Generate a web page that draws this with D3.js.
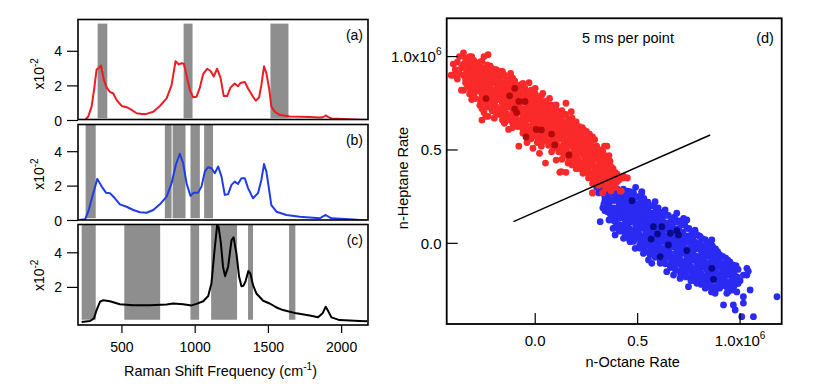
<!DOCTYPE html>
<html>
<head>
<meta charset="utf-8">
<script src="https://cdn.jsdelivr.net/npm/d3@7"></script>
<style>
  body { margin: 0; background: #fff; }
  svg { display: block; }
  text { font-family: "Liberation Sans", Arial, sans-serif; fill: #000; }
</style>
</head>
<body>
<svg id="chart" width="820" height="388"></svg>
<script>
// ---- spectra (Raman shift in cm-1, intensity x10^-2) ----
const freqTicks = [500, 1000, 1500, 2000];

const specA = [[225,0.0],[250,0.05],[270,0.23],[293,0.8],[310,1.8],[327,2.94],[343,3.05],[357,3.18],[377,2.33],[396,1.9],
  [418,1.66],[441,1.56],[464,1.18],[498,0.84],[532,0.77],[566,0.61],[600,0.42],[635,0.37],[668,0.38],[714,0.51],
  [759,0.84],[805,1.28],[839,2.04],[866,3.43],[889,3.24],[907,3.31],[923,3.28],[941,2.61],[964,1.75],[986,1.34],
  [1009,1.37],[1032,1.9],[1055,2.7],[1082,2.99],[1105,2.86],[1127,2.55],[1150,2.99],[1173,2.48],[1195,1.41],[1218,1.41],
  [1241,1.9],[1270,2.14],[1293,1.98],[1309,2.17],[1339,2.23],[1361,1.85],[1395,1.37],[1414,1.14],[1436,1.34],[1452,2.04],
  [1470,3.13],[1486,2.74],[1505,1.85],[1520,0.8],[1543,0.51],[1577,0.33],[1645,0.23],[1714,0.21],[1782,0.2],[1850,0.17],
  [1875,0.2],[1891,0.29],[1910,0.2],[1930,0.12],[2009,0.08],[2123,0.04],[2175,0.03]];

const specB = [[209,0.03],[248,0.07],[270,0.51],[304,1.59],[332,2.42],[362,1.97],[391,1.62],[418,1.59],[452,1.29],[486,0.94],
  [532,0.8],[577,0.61],[623,0.48],[668,0.45],[714,0.61],[759,0.94],[805,1.39],[839,2.17],[868,3.24],[895,3.88],
  [918,3.33],[941,2.17],[968,1.43],[991,1.62],[1020,1.62],[1043,1.97],[1066,2.85],[1089,3.1],[1111,3.04],[1134,2.75],
  [1157,3.14],[1180,2.55],[1202,1.49],[1225,1.53],[1248,2.07],[1270,2.26],[1293,2.13],[1316,2.46],[1339,2.46],[1361,1.88],
  [1395,1.29],[1429,1.59],[1452,2.36],[1470,3.28],[1486,2.85],[1505,1.78],[1520,0.9],[1555,0.51],[1623,0.32],[1714,0.22],
  [1782,0.18],[1850,0.13],[1891,0.32],[1930,0.13],[2055,0.07],[2123,0.03],[2175,0.02]];

const specC = [[225,0.0],[282,0.06],[309,0.21],[327,0.69],[350,1.17],[373,1.26],[418,1.2],[486,1.03],[577,0.97],[691,0.97],
  [805,1.01],[850,1.07],[918,1.03],[975,0.96],[1009,1.05],[1055,1.2],[1089,1.5],[1111,2.22],[1130,3.95],[1150,5.6],
  [1160,5.5],[1175,4.6],[1190,3.2],[1204,2.65],[1225,3.19],[1248,4.72],[1262,4.9],[1282,3.95],[1300,2.61],[1316,2.07],
  [1330,2.1],[1345,2.38],[1363,2.95],[1377,2.8],[1395,2.13],[1418,1.65],[1464,1.23],[1509,1.07],[1555,0.84],[1600,0.69],
  [1691,0.5],[1782,0.38],[1839,0.27],[1870,0.5],[1891,0.88],[1910,0.6],[1930,0.27],[1986,0.11],[2123,0.06],[2175,0.05]];

// shaded frequency windows [from, to]
const barsA = [[334,400],[921,982],[1514,1637]];
const barsB = [[252,321],[793,839],[846,934],[968,1032],[1061,1122]];
const barsC = [[225,321],[516,761],[968,1027],[1109,1286],[1361,1395],[1641,1684]];

// ---- scatter (rates in units of 10^6) ----
const rateTicks = [0, 0.5, 1.0];
const fitLine = [[-0.106,0.116],[0.854,0.58]];

const redPts = [
  [-0.41,0.90],[-0.40,0.96],[-0.39,0.93],[-0.40,0.90],
  [-0.37,1.00],[-0.38,0.97],[-0.37,0.91],[-0.38,0.88],[-0.36,0.94],
  [-0.35,1.02],[-0.35,0.96],[-0.34,0.99],[-0.35,0.90],[-0.34,0.86],[-0.33,0.93],[-0.35,0.82],
  [-0.32,0.97],[-0.33,0.95],[-0.32,0.90],[-0.31,0.87],[-0.33,0.84],[-0.32,0.80],[-0.31,0.94],[-0.32,1.00],
  [-0.30,0.98],[-0.30,0.93],[-0.29,0.90],[-0.30,0.86],[-0.29,0.83],[-0.30,0.79],[-0.29,0.95],[-0.28,0.88],
  [-0.27,0.97],[-0.28,0.92],[-0.27,0.89],[-0.28,0.85],[-0.27,0.82],[-0.26,0.78],[-0.27,0.74],[-0.26,0.94],[-0.26,0.86],
  [-0.25,1.00],[-0.25,0.93],[-0.24,0.90],[-0.25,0.86],[-0.24,0.82],[-0.25,0.78],[-0.24,0.75],[-0.23,0.88],[-0.25,0.70],
  [-0.22,0.95],[-0.23,0.91],[-0.22,0.87],[-0.23,0.84],[-0.22,0.80],[-0.21,0.77],[-0.22,0.73],[-0.21,0.90],[-0.23,0.68],
  [-0.20,0.93],[-0.20,0.89],[-0.19,0.86],[-0.20,0.82],[-0.19,0.79],[-0.20,0.75],[-0.19,0.71],[-0.18,0.83],[-0.20,0.67],
  [-0.17,0.92],[-0.18,0.88],[-0.17,0.84],[-0.18,0.80],[-0.17,0.77],[-0.16,0.73],[-0.17,0.70],[-0.16,0.86],[-0.16,0.66],
  [-0.15,0.90],[-0.15,0.86],[-0.14,0.82],[-0.15,0.79],[-0.14,0.75],[-0.15,0.71],[-0.14,0.68],[-0.13,0.85],[-0.13,0.78],
  [-0.12,0.88],[-0.13,0.84],[-0.12,0.80],[-0.13,0.76],[-0.12,0.73],[-0.11,0.69],[-0.12,0.66],[-0.11,0.77],[-0.12,0.91],[-0.11,0.62],
  [-0.10,0.87],[-0.10,0.83],[-0.09,0.79],[-0.10,0.76],[-0.09,0.72],[-0.10,0.68],[-0.09,0.65],[-0.08,0.75],[-0.08,0.84],
  [-0.07,0.85],[-0.08,0.81],[-0.07,0.78],[-0.08,0.74],[-0.07,0.71],[-0.06,0.67],[-0.07,0.63],[-0.06,0.76],[-0.06,0.59],
  [-0.05,0.83],[-0.05,0.80],[-0.04,0.76],[-0.05,0.72],[-0.04,0.69],[-0.05,0.65],[-0.04,0.61],[-0.03,0.74],[-0.03,0.86],
  [-0.02,0.82],[-0.03,0.78],[-0.02,0.74],[-0.03,0.71],[-0.02,0.67],[-0.01,0.63],[-0.02,0.60],[-0.01,0.71],[-0.02,0.56],
  [0.00,0.80],[0.00,0.76],[0.01,0.73],[0.00,0.69],[0.01,0.65],[0.00,0.62],[0.01,0.58],[0.02,0.68],[0.02,0.77],[0.01,0.54],
  [0.03,0.79],[0.02,0.75],[0.03,0.71],[0.02,0.67],[0.03,0.64],[0.04,0.60],[0.03,0.56],[0.04,0.69],[0.03,0.52],
  [0.05,0.76],[0.05,0.73],[0.06,0.69],[0.05,0.66],[0.06,0.62],[0.05,0.58],[0.06,0.55],[0.07,0.65],[0.07,0.72],
  [0.08,0.74],[0.07,0.70],[0.08,0.67],[0.07,0.63],[0.08,0.60],[0.09,0.56],[0.08,0.53],[0.09,0.64],[0.08,0.49],
  [0.10,0.72],[0.10,0.69],[0.11,0.65],[0.10,0.61],[0.11,0.58],[0.10,0.54],[0.11,0.51],[0.12,0.62],[0.12,0.68],
  [0.13,0.71],[0.12,0.67],[0.13,0.63],[0.12,0.59],[0.13,0.56],[0.14,0.52],[0.13,0.49],[0.14,0.60],[0.13,0.45],
  [0.15,0.69],[0.15,0.65],[0.16,0.61],[0.15,0.57],[0.16,0.54],[0.15,0.50],[0.16,0.47],[0.17,0.58],[0.16,0.43],
  [0.18,0.67],[0.17,0.63],[0.18,0.59],[0.17,0.56],[0.18,0.52],[0.19,0.49],[0.18,0.45],[0.19,0.56],[0.18,0.42],
  [0.20,0.65],[0.20,0.61],[0.21,0.57],[0.20,0.54],[0.21,0.50],[0.20,0.47],[0.21,0.43],[0.22,0.53],[0.22,0.40],
  [0.23,0.62],[0.22,0.59],[0.23,0.55],[0.22,0.51],[0.23,0.48],[0.24,0.44],[0.23,0.41],[0.24,0.52],[0.24,0.38],
  [0.25,0.60],[0.25,0.56],[0.26,0.52],[0.25,0.49],[0.26,0.45],[0.25,0.42],[0.26,0.38],[0.27,0.48],[0.26,0.35],
  [0.28,0.57],[0.27,0.53],[0.28,0.49],[0.27,0.46],[0.28,0.42],[0.29,0.39],[0.28,0.36],[0.29,0.45],[0.28,0.32],
  [0.30,0.52],[0.30,0.48],[0.31,0.45],[0.30,0.41],[0.31,0.38],[0.30,0.35],[0.31,0.31],[0.32,0.42],
  [0.33,0.49],[0.32,0.45],[0.33,0.41],[0.32,0.38],[0.33,0.34],[0.34,0.31],[0.33,0.27],
  [0.35,0.46],[0.35,0.42],[0.36,0.38],[0.35,0.35],[0.36,0.31],[0.37,0.28],
  [0.38,0.40],[0.37,0.36],[0.38,0.33],[0.39,0.30],
  [0.40,0.37],[0.41,0.34],[0.42,0.28],[0.43,0.35],
  // loose points round the edge
  [-0.23,1.01],[-0.16,0.92],[0.00,0.83],[0.05,0.75],[0.15,0.75],[0.18,0.65],[0.25,0.55],[0.35,0.52],[0.36,0.47],
  [0.35,0.43],[0.40,0.36],[-0.31,0.77],[-0.26,0.66],[-0.24,0.68],[-0.13,0.61],[-0.08,0.52],[-0.04,0.54],[0.05,0.43],
  [0.12,0.38],[0.15,0.38],[0.27,0.36],[0.28,0.27],[-0.36,0.82],[-0.30,0.81],[0.24,0.41],[0.28,0.35],[0.34,0.35],
  [0.37,0.41],[0.40,0.33],[0.43,0.36],[0.415,0.28],[0.28,0.27],[0.37,0.29],[0.45,0.35],
  [-0.27,0.955],[-0.19,0.93],[-0.11,0.884],[-0.06,0.857],[0.037,0.803],[0.07,0.776],[0.102,0.741],[0.176,0.705],
  [0.208,0.616],[0.289,0.50],[0.338,0.521],[0.306,0.455],[-0.19,0.696],[-0.15,0.643],[-0.011,0.509],[0.021,0.482],
  [0.102,0.446],[0.127,0.384],[0.20,0.40],[0.233,0.375]];

// points lying between the ones above, in the crowded core
const redFill = [
  [-0.34,0.97],[-0.335,0.92],[-0.34,0.88],
  [-0.31,1.00],[-0.315,0.96],[-0.31,0.92],[-0.315,0.885],[-0.31,0.85],[-0.315,0.82],
  [-0.285,0.96],[-0.29,0.925],[-0.285,0.885],[-0.29,0.85],[-0.285,0.815],[-0.29,0.775],
  [-0.26,0.975],[-0.265,0.915],[-0.26,0.875],[-0.265,0.84],[-0.26,0.80],[-0.265,0.76],[-0.26,0.72],
  [-0.235,0.955],[-0.24,0.925],[-0.235,0.88],[-0.24,0.845],[-0.235,0.805],[-0.24,0.765],[-0.235,0.73],
  [-0.21,0.935],[-0.215,0.895],[-0.21,0.86],[-0.215,0.825],[-0.21,0.785],[-0.215,0.75],[-0.21,0.71],
  [-0.185,0.91],[-0.19,0.875],[-0.185,0.84],[-0.19,0.805],[-0.185,0.77],[-0.19,0.73],[-0.185,0.69],
  [-0.16,0.895],[-0.165,0.86],[-0.16,0.82],[-0.165,0.785],[-0.16,0.75],[-0.165,0.71],[-0.16,0.68],
  [-0.135,0.875],[-0.14,0.84],[-0.135,0.80],[-0.14,0.77],[-0.135,0.73],[-0.14,0.695],[-0.135,0.66],
  [-0.11,0.86],[-0.115,0.82],[-0.11,0.785],[-0.115,0.75],[-0.11,0.715],[-0.115,0.68],[-0.11,0.645],
  [-0.085,0.845],[-0.09,0.81],[-0.085,0.77],[-0.09,0.735],[-0.085,0.70],[-0.09,0.665],[-0.085,0.625],
  [-0.06,0.83],[-0.065,0.79],[-0.06,0.755],[-0.065,0.72],[-0.06,0.68],[-0.065,0.645],[-0.06,0.61],
  [-0.035,0.81],[-0.04,0.775],[-0.035,0.74],[-0.04,0.70],[-0.035,0.665],[-0.04,0.63],[-0.035,0.59],
  [-0.01,0.79],[-0.015,0.755],[-0.01,0.72],[-0.015,0.685],[-0.01,0.65],[-0.015,0.61],[-0.01,0.575],
  [0.015,0.775],[0.01,0.74],[0.015,0.705],[0.01,0.67],[0.015,0.63],[0.01,0.595],[0.015,0.56],
  [0.04,0.755],[0.035,0.72],[0.04,0.685],[0.035,0.65],[0.04,0.615],[0.035,0.58],[0.04,0.545],
  [0.065,0.74],[0.06,0.705],[0.065,0.67],[0.06,0.635],[0.065,0.595],[0.06,0.56],[0.065,0.525],
  [0.09,0.72],[0.085,0.685],[0.09,0.65],[0.085,0.615],[0.09,0.58],[0.085,0.545],[0.09,0.51],
  [0.115,0.70],[0.11,0.665],[0.115,0.63],[0.11,0.595],[0.115,0.56],[0.11,0.525],[0.115,0.49],
  [0.14,0.685],[0.135,0.65],[0.14,0.61],[0.135,0.575],[0.14,0.54],[0.135,0.505],[0.14,0.47],
  [0.165,0.665],[0.16,0.63],[0.165,0.595],[0.16,0.56],[0.165,0.52],[0.16,0.485],[0.165,0.45],
  [0.19,0.645],[0.185,0.61],[0.19,0.575],[0.185,0.54],[0.19,0.505],[0.185,0.47],[0.19,0.435],
  [0.215,0.625],[0.21,0.59],[0.215,0.555],[0.21,0.52],[0.215,0.485],[0.21,0.45],[0.215,0.415],
  [0.24,0.605],[0.235,0.57],[0.24,0.535],[0.235,0.50],[0.24,0.465],[0.235,0.43],[0.24,0.395],
  [0.265,0.585],[0.26,0.55],[0.265,0.51],[0.26,0.475],[0.265,0.44],[0.26,0.405],[0.265,0.37],
  [0.29,0.555],[0.285,0.515],[0.29,0.48],[0.285,0.445],[0.29,0.41],[0.285,0.375],[0.29,0.34],
  [0.315,0.50],[0.31,0.465],[0.315,0.43],[0.31,0.395],[0.315,0.36],[0.31,0.33],
  [0.34,0.47],[0.335,0.435],[0.34,0.40],[0.335,0.365],[0.34,0.33],[0.345,0.295],
  [0.365,0.44],[0.36,0.405],[0.365,0.37],[0.36,0.335],[0.365,0.30],
  [0.39,0.38],[0.385,0.345],[0.39,0.315]];

const redDark = [[-0.10,0.83],[-0.125,0.79],[-0.24,0.775],[-0.05,0.76],[-0.08,0.76],[-0.10,0.72],[-0.09,0.70],
  [0.005,0.61],[0.03,0.607],[0.08,0.585],[-0.045,0.57],[0.095,0.527],[0.165,0.473]];

const bluePts = [
  [0.31,0.27],[0.30,0.30],[0.33,0.36],[0.32,0.31],[0.33,0.27],[0.34,0.23],[0.33,0.19],
  [0.35,0.33],[0.36,0.29],[0.35,0.25],[0.36,0.21],[0.35,0.17],[0.37,0.14],
  [0.38,0.31],[0.37,0.27],[0.38,0.23],[0.37,0.19],[0.38,0.15],[0.39,0.12],[0.38,0.08],
  [0.40,0.29],[0.40,0.25],[0.41,0.21],[0.40,0.18],[0.41,0.14],[0.40,0.10],[0.41,0.07],[0.42,0.24],
  [0.43,0.29],[0.42,0.26],[0.43,0.22],[0.42,0.18],[0.43,0.15],[0.44,0.11],[0.43,0.08],[0.44,0.04],[0.44,0.20],
  [0.45,0.28],[0.45,0.24],[0.46,0.20],[0.45,0.17],[0.46,0.13],[0.45,0.09],[0.46,0.06],[0.47,0.16],[0.46,0.02],
  [0.48,0.27],[0.47,0.23],[0.48,0.19],[0.47,0.15],[0.48,0.12],[0.49,0.08],[0.48,0.04],[0.49,0.17],[0.48,0.01],
  [0.50,0.25],[0.50,0.21],[0.51,0.17],[0.50,0.14],[0.51,0.10],[0.50,0.06],[0.51,0.03],[0.52,0.13],[0.51,-0.01],
  [0.53,0.24],[0.52,0.20],[0.53,0.16],[0.52,0.12],[0.53,0.09],[0.54,0.05],[0.53,0.01],[0.54,0.11],[0.53,-0.03],[0.54,0.19],
  [0.55,0.22],[0.55,0.18],[0.56,0.14],[0.55,0.10],[0.56,0.07],[0.55,0.03],[0.56,0.00],[0.57,0.09],[0.56,-0.04],[0.57,0.16],
  [0.58,0.20],[0.57,0.16],[0.58,0.12],[0.57,0.08],[0.58,0.05],[0.59,0.01],[0.58,-0.02],[0.59,0.09],[0.58,-0.06],
  [0.60,0.19],[0.60,0.15],[0.61,0.11],[0.60,0.07],[0.61,0.03],[0.60,0.00],[0.61,-0.04],[0.62,0.06],[0.61,-0.08],[0.62,0.14],
  [0.63,0.17],[0.62,0.13],[0.63,0.09],[0.62,0.05],[0.63,0.01],[0.64,-0.02],[0.63,-0.06],[0.64,0.04],[0.63,-0.10],
  [0.65,0.15],[0.65,0.11],[0.66,0.07],[0.65,0.03],[0.66,-0.01],[0.65,-0.04],[0.66,-0.08],[0.67,0.02],[0.66,-0.12],[0.67,0.12],
  [0.68,0.14],[0.67,0.10],[0.68,0.06],[0.67,0.02],[0.68,-0.02],[0.69,-0.05],[0.68,-0.09],[0.69,0.03],[0.68,-0.13],
  [0.70,0.12],[0.70,0.08],[0.71,0.04],[0.70,0.00],[0.71,-0.03],[0.70,-0.07],[0.71,-0.11],[0.72,-0.01],[0.71,-0.15],[0.72,0.10],
  [0.73,0.10],[0.72,0.06],[0.73,0.02],[0.72,-0.02],[0.73,-0.05],[0.74,-0.09],[0.73,-0.13],[0.74,-0.03],[0.73,-0.16],
  [0.75,0.08],[0.75,0.04],[0.76,0.00],[0.75,-0.04],[0.76,-0.07],[0.75,-0.11],[0.76,-0.15],[0.77,-0.05],[0.76,-0.18],[0.77,0.05],
  [0.78,0.06],[0.77,0.02],[0.78,-0.02],[0.77,-0.06],[0.78,-0.09],[0.79,-0.13],[0.78,-0.17],[0.79,-0.07],[0.78,-0.20],
  [0.80,0.04],[0.80,0.00],[0.81,-0.04],[0.80,-0.08],[0.81,-0.11],[0.80,-0.15],[0.81,-0.19],[0.82,-0.09],[0.81,-0.22],
  [0.83,0.02],[0.82,-0.02],[0.83,-0.06],[0.82,-0.10],[0.83,-0.13],[0.84,-0.17],[0.83,-0.21],[0.84,-0.11],[0.83,-0.24],
  [0.85,0.00],[0.85,-0.04],[0.86,-0.08],[0.85,-0.12],[0.86,-0.15],[0.85,-0.19],[0.86,-0.23],[0.87,-0.13],[0.86,-0.26],
  [0.88,-0.03],[0.87,-0.07],[0.88,-0.11],[0.87,-0.14],[0.88,-0.18],[0.89,-0.21],[0.88,-0.25],[0.89,-0.09],
  [0.90,-0.06],[0.90,-0.10],[0.91,-0.13],[0.90,-0.17],[0.91,-0.20],[0.90,-0.24],[0.92,-0.15],
  [0.93,-0.08],[0.92,-0.12],[0.93,-0.16],[0.92,-0.19],[0.93,-0.23],[0.94,-0.26],
  [0.95,-0.10],[0.95,-0.14],[0.96,-0.18],[0.95,-0.21],[0.96,-0.25],
  [0.98,-0.12],[0.97,-0.16],[0.98,-0.20],[0.97,-0.23],
  // loose points round the edge
  [1.18,-0.286],[1.065,-0.393],[1.008,-0.393],[0.976,-0.357],[1.016,-0.286],[1.049,-0.25],[1.033,-0.134],[1.04,-0.15],
  [0.967,-0.33],[1.016,-0.32],[0.984,-0.26],[1.0,-0.20],[0.959,-0.143],[1.033,-0.17],[0.317,0.116],[0.39,0.045],
  [0.431,0.027],[0.528,-0.054],[0.569,-0.107],[0.642,-0.152],[0.707,-0.188],[0.748,-0.232],[0.837,-0.232],[0.878,-0.268],
  [0.935,-0.268],[0.919,-0.33],[0.52,0.277],[0.585,0.223],[0.691,0.161],[0.74,0.125],[0.805,0.036],[0.862,0.018],
  [0.886,-0.071],[0.959,-0.125],[0.33,0.357],[0.314,0.286],[0.38,0.30],[0.42,0.27],[0.49,0.30],[0.52,0.27],
  [0.374,0.16],[0.463,0.009],[0.488,-0.027],[0.553,-0.089],[0.61,-0.107],[0.675,-0.17],[0.789,-0.214],[0.463,0.277],
  [0.634,0.179],[0.724,0.134],[0.78,0.071],[0.87,-0.027],[0.935,-0.098],[1.016,-0.17]];

const blueFill = [
  [0.34,0.32],[0.335,0.285],[0.34,0.25],[0.335,0.21],[0.34,0.175],
  [0.365,0.31],[0.36,0.27],[0.365,0.235],[0.36,0.195],[0.365,0.16],[0.36,0.125],
  [0.39,0.30],[0.385,0.265],[0.39,0.23],[0.385,0.19],[0.39,0.155],[0.385,0.12],[0.39,0.085],
  [0.415,0.28],[0.41,0.245],[0.415,0.205],[0.41,0.17],[0.415,0.135],[0.41,0.10],[0.415,0.065],
  [0.44,0.27],[0.435,0.235],[0.44,0.195],[0.435,0.16],[0.44,0.125],[0.435,0.09],[0.44,0.055],
  [0.465,0.26],[0.46,0.22],[0.465,0.185],[0.46,0.15],[0.465,0.115],[0.46,0.08],[0.465,0.04],
  [0.49,0.245],[0.485,0.21],[0.49,0.17],[0.485,0.135],[0.49,0.10],[0.485,0.065],[0.49,0.025],
  [0.515,0.23],[0.51,0.19],[0.515,0.155],[0.51,0.12],[0.515,0.08],[0.51,0.045],[0.515,0.01],[0.51,-0.025],
  [0.54,0.215],[0.535,0.175],[0.54,0.14],[0.535,0.10],[0.54,0.065],[0.535,0.03],[0.54,-0.01],[0.535,-0.045],
  [0.565,0.20],[0.56,0.16],[0.565,0.125],[0.56,0.085],[0.565,0.05],[0.56,0.015],[0.565,-0.025],[0.56,-0.06],
  [0.59,0.18],[0.585,0.145],[0.59,0.105],[0.585,0.07],[0.59,0.035],[0.585,-0.005],[0.59,-0.04],[0.585,-0.075],
  [0.615,0.165],[0.61,0.13],[0.615,0.09],[0.61,0.055],[0.615,0.015],[0.61,-0.02],[0.615,-0.06],[0.61,-0.095],
  [0.64,0.15],[0.635,0.11],[0.64,0.075],[0.635,0.035],[0.64,0.0],[0.635,-0.04],[0.64,-0.075],[0.635,-0.11],
  [0.665,0.13],[0.66,0.095],[0.665,0.055],[0.66,0.02],[0.665,-0.02],[0.66,-0.055],[0.665,-0.095],[0.66,-0.13],
  [0.69,0.115],[0.685,0.075],[0.69,0.04],[0.685,0.0],[0.69,-0.035],[0.685,-0.075],[0.69,-0.11],[0.685,-0.145],
  [0.715,0.10],[0.71,0.06],[0.715,0.02],[0.71,-0.015],[0.715,-0.055],[0.71,-0.09],[0.715,-0.13],[0.71,-0.165],
  [0.74,0.08],[0.735,0.04],[0.74,0.005],[0.735,-0.035],[0.74,-0.07],[0.735,-0.11],[0.74,-0.145],[0.735,-0.18],
  [0.765,0.06],[0.76,0.025],[0.765,-0.015],[0.76,-0.05],[0.765,-0.09],[0.76,-0.125],[0.765,-0.165],[0.76,-0.20],
  [0.79,0.045],[0.785,0.005],[0.79,-0.03],[0.785,-0.07],[0.79,-0.105],[0.785,-0.145],[0.79,-0.18],
  [0.815,0.025],[0.81,-0.01],[0.815,-0.05],[0.81,-0.085],[0.815,-0.125],[0.81,-0.16],[0.815,-0.20],
  [0.84,0.005],[0.835,-0.03],[0.84,-0.07],[0.835,-0.105],[0.84,-0.145],[0.835,-0.18],[0.84,-0.22],
  [0.865,-0.015],[0.86,-0.05],[0.865,-0.09],[0.86,-0.125],[0.865,-0.165],[0.86,-0.20],[0.865,-0.24],
  [0.89,-0.045],[0.885,-0.08],[0.89,-0.12],[0.885,-0.155],[0.89,-0.195],[0.885,-0.23],
  [0.915,-0.07],[0.91,-0.11],[0.915,-0.145],[0.91,-0.185],[0.915,-0.22],
  [0.94,-0.09],[0.935,-0.13],[0.94,-0.17],[0.935,-0.205],[0.94,-0.24],
  [0.965,-0.115],[0.96,-0.155],[0.965,-0.19],[0.96,-0.23],
  [0.99,-0.14],[0.985,-0.18],[0.99,-0.215]];

const blueDark = [[0.472,0.228],[0.577,0.089],[0.618,0.089],[0.659,0.054],[0.691,0.068],[0.699,0.045],[0.566,0.023],
  [0.597,0.05],[0.65,-0.009],[0.74,-0.039],[0.61,-0.071],[0.862,-0.134],[0.87,-0.193]];

const svg = d3.select("#chart");
const FONT = 14;

// ---------------- left: three stacked spectra ----------------
const x = d3.scaleLinear().domain([200, 2180]).range([78, 368]);

const panels = [
  { id: "a", spec: specA, bars: barsA, color: "#ec1c24", top: 19.5, bottom: 119.5, zero: 120.5, unit: 17.3, ticks: [0, 2, 4] },
  { id: "b", spec: specB, bars: barsB, color: "#1f3de6", top: 124.5, bottom: 220, zero: 220.5, unit: 17.2, ticks: [0, 2, 4] },
  { id: "c", spec: specC, bars: barsC, color: "#000000", top: 224.5, bottom: 325, zero: 322, unit: 17.3, ticks: [2, 4] }
];

panels.forEach(p => {
  const y = d3.scaleLinear().domain([0, 4]).range([p.zero, p.zero - 4 * p.unit]);
  const g = svg.append("g");

  g.append("clipPath").attr("id", "clip-" + p.id)
    .append("rect")
    .attr("x", x.range()[0]).attr("y", p.top)
    .attr("width", x.range()[1] - x.range()[0]).attr("height", p.bottom - p.top);

  const inner = g.append("g").attr("clip-path", `url(#clip-${p.id})`);

  inner.selectAll("rect.bar")
    .data(p.bars)
    .join("rect")
    .attr("class", "bar")
    .attr("x", d => x(d[0]))
    .attr("width", d => x(d[1]) - x(d[0]))
    .attr("y", y(5.6))
    .attr("height", y(0.13) - y(5.6))
    .attr("fill", "#8e8e8e");

  inner.append("path")
    .datum(p.spec)
    .attr("fill", "none")
    .attr("stroke", p.color)
    .attr("stroke-width", 2)
    .attr("stroke-linejoin", "round")
    .attr("d", d3.line().x(d => x(d[0])).y(d => y(d[1])));

  g.append("rect")
    .attr("x", x.range()[0]).attr("y", p.top)
    .attr("width", x.range()[1] - x.range()[0]).attr("height", p.bottom - p.top)
    .attr("fill", "none").attr("stroke", "#000").attr("stroke-width", 1.6);

  // y ticks outside on the left
  g.selectAll("line.ytick")
    .data(p.ticks)
    .join("line")
    .attr("x1", 67).attr("x2", 78)
    .attr("y1", d => y(d)).attr("y2", d => y(d))
    .attr("stroke", "#000").attr("stroke-width", 1.2);

  g.selectAll("text.ytick")
    .data(p.ticks)
    .join("text")
    .attr("x", 62).attr("y", d => y(d) + 5)
    .attr("text-anchor", "end")
    .attr("font-size", FONT)
    .text(d => d);

  const lab = g.append("text")
    .attr("transform", `translate(43.5,${y(2.7)}) rotate(-90)`)
    .attr("text-anchor", "middle")
    .attr("font-size", FONT);
  lab.append("tspan").text("x10");
  lab.append("tspan").attr("dy", -6).attr("font-size", 10).text("-2");

  g.append("text")
    .attr("x", 363).attr("y", p.top + 20.5)
    .attr("text-anchor", "end")
    .attr("font-size", FONT)
    .text(`(${p.id})`);
});

// bottom frequency axis
const axisY = 325;
svg.selectAll("line.xtick")
  .data(freqTicks)
  .join("line")
  .attr("x1", d => x(d)).attr("x2", d => x(d))
  .attr("y1", axisY).attr("y2", axisY + 8)
  .attr("stroke", "#000").attr("stroke-width", 1.2);

svg.selectAll("text.xtick")
  .data(freqTicks)
  .join("text")
  .attr("x", d => x(d)).attr("y", 351.5)
  .attr("text-anchor", "middle")
  .attr("font-size", FONT)
  .text(d => d);

const xt = svg.append("text")
  .attr("x", 220.5).attr("y", 376)
  .attr("text-anchor", "middle")
  .attr("font-size", 14.4);
xt.append("tspan").text("Raman Shift Frequency (cm");
xt.append("tspan").attr("dy", -6).attr("font-size", 10).text("-1");
xt.append("tspan").attr("dy", 6).text(")");

// ---------------- right: rate scatter ----------------
const sx = d3.scaleLinear().domain([-0.432, 1.203]).range([446.7, 781.7]);
const sy = d3.scaleLinear().domain([-0.432, 1.205]).range([324, 18.3]);
const sg = svg.append("g");

sg.append("clipPath").attr("id", "clip-d")
  .append("rect")
  .attr("x", sx.range()[0]).attr("y", sy.range()[1])
  .attr("width", sx.range()[1] - sx.range()[0]).attr("height", sy.range()[0] - sy.range()[1]);

const dots = sg.append("g").attr("clip-path", "url(#clip-d)");
const R = 3.4;

function drawDots(cls, pts, fill) {
  dots.selectAll("circle." + cls).data(pts).join("circle")
    .attr("class", cls)
    .attr("cx", d => sx(d[0])).attr("cy", d => sy(d[1])).attr("r", R).attr("fill", fill);
}
drawDots("blue", bluePts.concat(blueFill), "#2a2af2");
drawDots("blueDark", blueDark, "#0a0a8c");
drawDots("red", redPts.concat(redFill), "#fa2a2a");
drawDots("redDark", redDark, "#b40a0a");

dots.append("path")
  .datum(fitLine)
  .attr("fill", "none").attr("stroke", "#000").attr("stroke-width", 1.4)
  .attr("d", d3.line().x(d => sx(d[0])).y(d => sy(d[1])));

sg.append("rect")
  .attr("x", sx.range()[0]).attr("y", sy.range()[1])
  .attr("width", sx.range()[1] - sx.range()[0]).attr("height", sy.range()[0] - sy.range()[1])
  .attr("fill", "none").attr("stroke", "#000").attr("stroke-width", 1.8);

// inward ticks
sg.selectAll("line.sx").data(rateTicks).join("line")
  .attr("class", "sx")
  .attr("x1", d => sx(d)).attr("x2", d => sx(d))
  .attr("y1", sy.range()[0]).attr("y2", sy.range()[0] - 11)
  .attr("stroke", "#000").attr("stroke-width", 1.2);
sg.selectAll("line.sy").data(rateTicks).join("line")
  .attr("class", "sy")
  .attr("x1", sx.range()[0]).attr("x2", sx.range()[0] + 11)
  .attr("y1", d => sy(d)).attr("y2", d => sy(d))
  .attr("stroke", "#000").attr("stroke-width", 1.2);

const SFONT = 15;
function rateLabel(sel, d) {
  sel.append("tspan").text(d3.format(".1f")(d) + (d === 1 ? "x10" : ""));
  if (d === 1) sel.append("tspan").attr("dy", -7).attr("font-size", 10).text("6");
}
sg.selectAll("text.sx").data(rateTicks).join("text")
  .attr("class", "sx")
  .attr("x", d => sx(d)).attr("y", 346)
  .attr("text-anchor", "middle").attr("font-size", SFONT)
  .each(function(d) { rateLabel(d3.select(this), d); });
sg.selectAll("text.sy").data(rateTicks).join("text")
  .attr("class", "sy")
  .attr("x", 441.5).attr("y", d => sy(d) + 5.5)
  .attr("text-anchor", "end").attr("font-size", SFONT)
  .each(function(d) { rateLabel(d3.select(this), d); });

sg.append("text")
  .attr("x", 632.7).attr("y", 366.5)
  .attr("text-anchor", "middle").attr("font-size", 14.5)
  .text("n-Octane Rate");
sg.append("text")
  .attr("transform", "translate(408,178) rotate(-90)")
  .attr("text-anchor", "middle").attr("font-size", 14.5)
  .text("n-Heptane Rate");
sg.append("text")
  .attr("x", 628).attr("y", 43)
  .attr("text-anchor", "middle").attr("font-size", 14.5)
  .text("5 ms per point");
sg.append("text")
  .attr("x", 765).attr("y", 43)
  .attr("text-anchor", "middle").attr("font-size", 14.5)
  .text("(d)");
</script>
</body>
</html>
